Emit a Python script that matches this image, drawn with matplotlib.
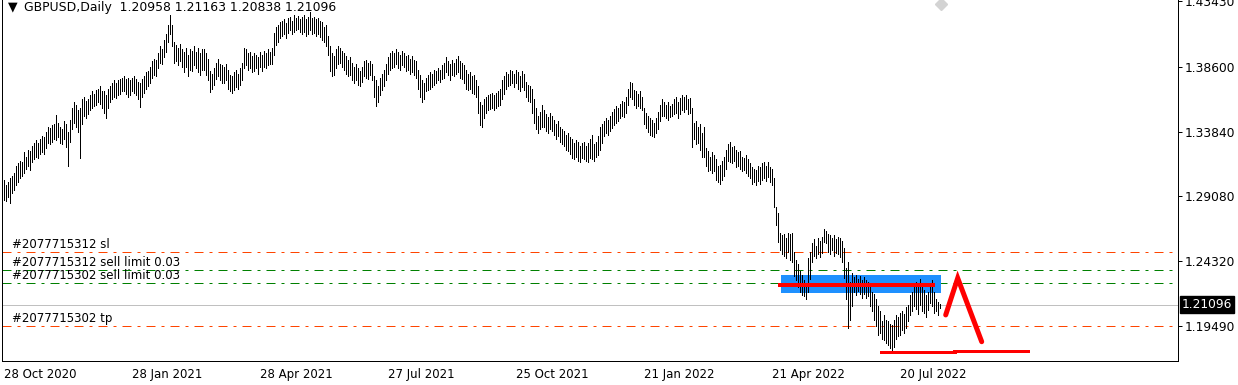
import matplotlib
matplotlib.use("Agg")
import matplotlib.pyplot as plt
from matplotlib.patches import Rectangle

# GBPUSD daily bars (bar 0 = 28 Oct 2020)
highs = [
    1.3030, 1.2990, 1.3010, 1.3045, 1.3060, 1.3080, 1.3130, 1.3150, 1.3170, 1.3160,
    1.3230, 1.3200, 1.3250, 1.3240, 1.3280, 1.3300, 1.3320, 1.3300, 1.3330, 1.3350,
    1.3340, 1.3380, 1.3420, 1.3410, 1.3430, 1.3440, 1.3506, 1.3450, 1.3420, 1.3400,
    1.3460, 1.3440, 1.3380, 1.3470, 1.3560, 1.3600, 1.3580, 1.3540, 1.3560, 1.3620,
    1.3640, 1.3610, 1.3620, 1.3650, 1.3680, 1.3660, 1.3690, 1.3700, 1.3720, 1.3680,
    1.3680, 1.3650, 1.3700, 1.3720, 1.3740, 1.3760, 1.3740, 1.3760, 1.3770, 1.3780,
    1.3790, 1.3770, 1.3780, 1.3760, 1.3780, 1.3790, 1.3770, 1.3750, 1.3740, 1.3770,
    1.3790, 1.3820, 1.3830, 1.3860, 1.3900, 1.3920, 1.3910, 1.3960, 1.4010, 1.3990,
    1.4060, 1.4100, 1.4170, 1.4242, 1.4170, 1.4040, 1.4020, 1.4000, 1.4030, 1.3990,
    1.3970, 1.4000, 1.3950, 1.3990, 1.3980, 1.4010, 1.3970, 1.4000, 1.3960, 1.3990,
    1.3990, 1.3960, 1.3920, 1.3830, 1.3810, 1.3850, 1.3890, 1.3920, 1.3880, 1.3870,
    1.3860, 1.3880, 1.3840, 1.3800, 1.3790, 1.3820, 1.3840, 1.3810, 1.3850, 1.3890,
    1.4000, 1.3990, 1.3960, 1.3970, 1.3940, 1.3960, 1.3950, 1.3930, 1.3970, 1.3950,
    1.3980, 1.3960, 1.3990, 1.3970, 1.4000, 1.4110, 1.4150, 1.4170, 1.4190, 1.4200,
    1.4210, 1.4180, 1.4220, 1.4230, 1.4200, 1.4240, 1.4220, 1.4235, 1.4210, 1.4230,
    1.4245, 1.4210, 1.4230, 1.4260, 1.4220, 1.4230, 1.4210, 1.4220, 1.4200, 1.4190,
    1.4150, 1.4170, 1.4090, 1.4010, 1.3960, 1.3940, 1.3990, 1.4010, 1.4000, 1.3980,
    1.3960, 1.3940, 1.3910, 1.3930, 1.3890, 1.3860, 1.3880, 1.3850, 1.3830, 1.3860,
    1.3900, 1.3910, 1.3890, 1.3900, 1.3880, 1.3790, 1.3760, 1.3720, 1.3780, 1.3810,
    1.3840, 1.3880, 1.3930, 1.3960, 1.3980, 1.3960, 1.3990, 1.3970, 1.3950, 1.3980,
    1.3960, 1.3940, 1.3950, 1.3920, 1.3940, 1.3910, 1.3900, 1.3840, 1.3800, 1.3760,
    1.3740, 1.3780, 1.3800, 1.3820, 1.3810, 1.3840, 1.3830, 1.3850, 1.3840, 1.3870,
    1.3890, 1.3930, 1.3900, 1.3880, 1.3910, 1.3890, 1.3920, 1.3940, 1.3900, 1.3890,
    1.3870, 1.3840, 1.3810, 1.3820, 1.3790, 1.3800, 1.3760, 1.3720, 1.3600, 1.3580,
    1.3620, 1.3640, 1.3650, 1.3660, 1.3670, 1.3650, 1.3670, 1.3680, 1.3700, 1.3760,
    1.3790, 1.3820, 1.3810, 1.3840, 1.3830, 1.3810, 1.3840, 1.3820, 1.3790, 1.3830,
    1.3810, 1.3750, 1.3730, 1.3720, 1.3700, 1.3620, 1.3560, 1.3500, 1.3530, 1.3580,
    1.3540, 1.3510, 1.3490, 1.3520, 1.3500, 1.3470, 1.3440, 1.3460, 1.3420, 1.3400,
    1.3390, 1.3360, 1.3370, 1.3340, 1.3330, 1.3300, 1.3320, 1.3310, 1.3280, 1.3300,
    1.3310, 1.3280, 1.3300, 1.3330, 1.3360, 1.3290, 1.3310, 1.3350, 1.3420, 1.3440,
    1.3460, 1.3480, 1.3470, 1.3500, 1.3530, 1.3550, 1.3570, 1.3560, 1.3590, 1.3610,
    1.3600, 1.3640, 1.3700, 1.3750, 1.3740, 1.3690, 1.3680, 1.3660, 1.3680, 1.3640,
    1.3560, 1.3520, 1.3500, 1.3480, 1.3470, 1.3450, 1.3480, 1.3530, 1.3580, 1.3620,
    1.3600, 1.3580, 1.3600, 1.3570, 1.3590, 1.3620, 1.3640, 1.3600, 1.3630, 1.3650,
    1.3640, 1.3650, 1.3620, 1.3630, 1.3557, 1.3450, 1.3460, 1.3420, 1.3440, 1.3370,
    1.3417, 1.3260, 1.3240, 1.3200, 1.3230, 1.3210, 1.3180, 1.3130, 1.3140, 1.3170,
    1.3200, 1.3250, 1.3290, 1.3310, 1.3270, 1.3280, 1.3250, 1.3230, 1.3240, 1.3200,
    1.3190, 1.3210, 1.3180, 1.3150, 1.3120, 1.3110, 1.3100, 1.3130, 1.3120, 1.3150,
    1.3160, 1.3130, 1.3160, 1.3120, 1.3110, 1.3042, 1.2830, 1.2784, 1.2640, 1.2620,
    1.2630, 1.2600, 1.2640, 1.2630, 1.2640, 1.2500, 1.2440, 1.2410, 1.2360, 1.2330,
    1.2290, 1.2260, 1.2450, 1.2500, 1.2560, 1.2590, 1.2540, 1.2600, 1.2580, 1.2610,
    1.2666, 1.2650, 1.2630, 1.2620, 1.2600, 1.2620, 1.2590, 1.2610, 1.2600, 1.2580,
    1.2527, 1.2380, 1.2420, 1.2280, 1.2340, 1.2310, 1.2330, 1.2300, 1.2320, 1.2290,
    1.2310, 1.2290, 1.2280, 1.2240, 1.2200, 1.2190, 1.2150, 1.2100, 1.2060, 1.1990,
    1.2030, 1.2000, 1.1990, 1.1970, 1.1960, 1.2000, 1.2030, 1.2020, 1.2050, 1.2060,
    1.2040, 1.2090, 1.2110, 1.2180, 1.2200, 1.2250, 1.2280, 1.2240, 1.2300, 1.2250,
    1.2220, 1.2180, 1.2200, 1.2270, 1.2290, 1.2200, 1.2150, 1.2130, 1.21163,
]
lows = [
    1.2880, 1.2870, 1.2900, 1.2860, 1.2930, 1.2950, 1.2990, 1.3010, 1.3040, 1.3060,
    1.3080, 1.3110, 1.3130, 1.3100, 1.3160, 1.3180, 1.3200, 1.3190, 1.3220, 1.3230,
    1.3220, 1.3260, 1.3300, 1.3290, 1.3310, 1.3330, 1.3320, 1.3340, 1.3300, 1.3290,
    1.3330, 1.3270, 1.3130, 1.3310, 1.3400, 1.3450, 1.3420, 1.3380, 1.3189, 1.3440,
    1.3500, 1.3480, 1.3510, 1.3540, 1.3560, 1.3570, 1.3580, 1.3600, 1.3590, 1.3560,
    1.3520, 1.3480, 1.3560, 1.3600, 1.3620, 1.3640, 1.3630, 1.3650, 1.3660, 1.3680,
    1.3680, 1.3660, 1.3640, 1.3650, 1.3680, 1.3670, 1.3650, 1.3620, 1.3565, 1.3640,
    1.3670, 1.3700, 1.3720, 1.3740, 1.3780, 1.3800, 1.3790, 1.3850, 1.3890, 1.3880,
    1.3930, 1.3970, 1.4040, 1.4100, 1.4010, 1.3890, 1.3900, 1.3870, 1.3900, 1.3860,
    1.3820, 1.3860, 1.3790, 1.3840, 1.3830, 1.3870, 1.3850, 1.3820, 1.3800, 1.3840,
    1.3840, 1.3800, 1.3760, 1.3675, 1.3700, 1.3730, 1.3770, 1.3790, 1.3760, 1.3740,
    1.3740, 1.3760, 1.3700, 1.3680, 1.3670, 1.3690, 1.3710, 1.3700, 1.3730, 1.3760,
    1.3850, 1.3870, 1.3840, 1.3850, 1.3820, 1.3830, 1.3850, 1.3810, 1.3860, 1.3830,
    1.3860, 1.3850, 1.3870, 1.3880, 1.3880, 1.3950, 1.4020, 1.4040, 1.4070, 1.4090,
    1.4100, 1.4070, 1.4110, 1.4130, 1.4100, 1.4120, 1.4130, 1.4140, 1.4120, 1.4100,
    1.4120, 1.4090, 1.4100, 1.4130, 1.4100, 1.4110, 1.4090, 1.4100, 1.4080, 1.4060,
    1.4040, 1.4010, 1.3950, 1.3830, 1.3790, 1.3800, 1.3850, 1.3880, 1.3890, 1.3860,
    1.3840, 1.3810, 1.3790, 1.3800, 1.3760, 1.3740, 1.3760, 1.3730, 1.3720, 1.3750,
    1.3790, 1.3780, 1.3770, 1.3800, 1.3760, 1.3640, 1.3570, 1.3600, 1.3650, 1.3690,
    1.3720, 1.3760, 1.3810, 1.3840, 1.3850, 1.3860, 1.3880, 1.3850, 1.3840, 1.3870,
    1.3860, 1.3830, 1.3840, 1.3810, 1.3820, 1.3800, 1.3780, 1.3700, 1.3640, 1.3600,
    1.3620, 1.3680, 1.3690, 1.3700, 1.3710, 1.3730, 1.3740, 1.3760, 1.3750, 1.3770,
    1.3780, 1.3820, 1.3800, 1.3760, 1.3800, 1.3790, 1.3810, 1.3820, 1.3780, 1.3770,
    1.3740, 1.3700, 1.3690, 1.3700, 1.3670, 1.3660, 1.3640, 1.3520, 1.3430, 1.3420,
    1.3480, 1.3520, 1.3540, 1.3550, 1.3560, 1.3540, 1.3560, 1.3570, 1.3580, 1.3620,
    1.3660, 1.3700, 1.3720, 1.3730, 1.3740, 1.3710, 1.3740, 1.3700, 1.3680, 1.3710,
    1.3690, 1.3640, 1.3610, 1.3600, 1.3520, 1.3450, 1.3400, 1.3370, 1.3400, 1.3420,
    1.3420, 1.3390, 1.3370, 1.3400, 1.3390, 1.3360, 1.3330, 1.3350, 1.3310, 1.3290,
    1.3280, 1.3250, 1.3240, 1.3220, 1.3190, 1.3180, 1.3200, 1.3170, 1.3160, 1.3190,
    1.3180, 1.3170, 1.3160, 1.3190, 1.3180, 1.3170, 1.3200, 1.3210, 1.3250, 1.3300,
    1.3350, 1.3370, 1.3360, 1.3390, 1.3410, 1.3430, 1.3450, 1.3460, 1.3480, 1.3500,
    1.3490, 1.3520, 1.3580, 1.3640, 1.3620, 1.3580, 1.3560, 1.3570, 1.3560, 1.3540,
    1.3440, 1.3410, 1.3380, 1.3360, 1.3350, 1.3340, 1.3370, 1.3400, 1.3460, 1.3500,
    1.3500, 1.3480, 1.3470, 1.3490, 1.3500, 1.3510, 1.3520, 1.3480, 1.3510, 1.3540,
    1.3530, 1.3550, 1.3510, 1.3520, 1.3270, 1.3330, 1.3290, 1.3300, 1.3250, 1.3200,
    1.3196, 1.3130, 1.3090, 1.3100, 1.3080, 1.3090, 1.3030, 1.3010, 1.3000, 1.3030,
    1.3060, 1.3110, 1.3170, 1.3160, 1.3150, 1.3170, 1.3120, 1.3130, 1.3110, 1.3090,
    1.3100, 1.3080, 1.3060, 1.3040, 1.3000, 1.3010, 1.2990, 1.3020, 1.3000, 1.3030,
    1.3040, 1.3020, 1.3050, 1.3010, 1.2990, 1.2829, 1.2696, 1.2571, 1.2512, 1.2480,
    1.2470, 1.2450, 1.2500, 1.2440, 1.2420, 1.2320, 1.2290, 1.2240, 1.2200, 1.2180,
    1.2170, 1.2155, 1.2200, 1.2300, 1.2420, 1.2470, 1.2450, 1.2480, 1.2460, 1.2490,
    1.2570, 1.2560, 1.2500, 1.2480, 1.2510, 1.2470, 1.2490, 1.2480, 1.2460, 1.2420,
    1.2306, 1.2150, 1.1940, 1.2000, 1.2100, 1.2200, 1.2180, 1.2210, 1.2190, 1.2160,
    1.2190, 1.2160, 1.2170, 1.2100, 1.2060, 1.2000, 1.1950, 1.1890, 1.1900, 1.1860,
    1.1850, 1.1830, 1.1810, 1.1790, 1.1761, 1.1800, 1.1860, 1.1880, 1.1890, 1.1920,
    1.1900, 1.1940, 1.1990, 1.2030, 1.2060, 1.2100, 1.2080, 1.2040, 1.2110, 1.2060,
    1.2050, 1.2020, 1.2070, 1.2120, 1.2100, 1.2050, 1.2060, 1.2030, 1.20838,
]

date_labels = ["28 Oct 2020", "28 Jan 2021", "28 Apr 2021", "27 Jul 2021",
               "25 Oct 2021", "21 Jan 2022", "21 Apr 2022", "20 Jul 2022"]
bars_per_label = 64
price_ticks = [1.43430, 1.38600, 1.33840, 1.29080, 1.24320, 1.19490]
last_ohlc = [1.20958, 1.21163, 1.20838, 1.21096]

# pending orders: (text, price, colour)
order_lines = [
    ("#2077715312 sl", 1.2500, "#FF4500"),
    ("#2077715312 sell limit 0.03", 1.2363, "#008000"),
    ("#2077715302 sell limit 0.03", 1.2267, "#008000"),
    ("#2077715302 tp", 1.1950, "#FF4500"),
]

# hand-drawn objects (bar index, price)
zone_x = [388.75, 468.6]
zone_y = [1.2192, 1.2328]
red_level_x = [388.3, 464.8]
red_level_y = 1.2254
zigzag_x = [471.1, 477.1, 489.1]
zigzag_y = [1.2034, 1.2305, 1.1837]
bottom_x = [[438.8, 475.8], [475.3, 512.3]]
bottom_y = [1.1759, 1.1770]

W, H = 1238, 385
PX = 72 / 100  # points per pixel
plt.rcParams["lines.scale_dashes"] = False
plt.rcParams["font.family"] = "DejaVu Sans"

fig = plt.figure(figsize=(W / 100, H / 100), dpi=100)
fig.patch.set_facecolor("white")
ax = fig.add_axes([2 / W, 24 / H, 1176 / W, 361 / H])
ax.set_xlim(-0.75, 587.25)
ax.set_ylim(1.1695, 1.4352)

# bars
idx = list(range(len(highs)))
ax.vlines(idx, lows, highs, color="black", linewidth=PX, antialiased=False, zorder=3)

# bid line
ax.axhline(last_ohlc[3], color="#C0C0C0", linewidth=PX, zorder=1)

dashdot = (0, (9 * PX, 6 * PX, 3 * PX, 6 * PX))
for text, level, col in order_lines:
    ax.axhline(level, color=col, linewidth=PX, linestyle=dashdot, zorder=2)
    ax.annotate(text, xy=(4.25, level), xytext=(0, 4), textcoords="offset pixels",
                va="baseline", ha="left", fontsize=8.5, color="black", zorder=5)

# zone and drawings
ax.add_patch(Rectangle((zone_x[0], zone_y[0]), zone_x[1] - zone_x[0], zone_y[1] - zone_y[0],
                       facecolor="#1E90FF", edgecolor="none", zorder=2.5))
ax.plot(red_level_x, [red_level_y] * 2, color="red", linewidth=4 * PX, zorder=4)
ax.plot(zigzag_x, zigzag_y, color="red", linewidth=5 * PX, solid_capstyle="round",
        solid_joinstyle="miter", zorder=4)
for xs, yv in zip(bottom_x, bottom_y):
    ax.plot(xs, [yv, yv], color="red", linewidth=3 * PX, zorder=4)

# chart-shift marker
ax.plot([468.6], [1.4320], marker="D", markersize=6, color="#D3D3D3", clip_on=False, zorder=1)

# axes
for s in ("left", "right", "bottom"):
    ax.spines[s].set_linewidth(PX)
    ax.spines[s].set_color("black")
ax.spines["top"].set_visible(False)

ax.yaxis.tick_right()
ax.set_yticks(price_ticks)
ax.set_yticklabels([f"{p:.5f}" for p in price_ticks])
ax.tick_params(axis="y", length=4 * PX, width=PX, pad=2, labelsize=8.8)

ax.set_xticks([k * bars_per_label for k in range(len(date_labels))])
ax.set_xticklabels(date_labels)
ax.tick_params(axis="x", length=0, pad=5, labelsize=8.5)
for lab in ax.get_xticklabels():
    lab.set_horizontalalignment("left")

# bid price box
ax.annotate(f"{last_ohlc[3]:.5f}", xy=(1.0, last_ohlc[3]), xycoords=("axes fraction", "data"),
            xytext=(4, 0), textcoords="offset pixels", ha="left", va="center",
            fontsize=8.8, color="white", annotation_clip=False,
            bbox=dict(boxstyle="square,pad=0.15", facecolor="black", edgecolor="black"))

# title
fig.text(13 / W, 1 - 7 / H, "\u25BC", fontsize=9, ha="center", va="center", color="black")
title = "GBPUSD,Daily  " + " ".join(f"{v:.5f}" for v in last_ohlc)
fig.text(24 / W, 1 - 7 / H, title, fontsize=8.9, ha="left", va="center", color="black")

fig.savefig("out.png", dpi=100)
